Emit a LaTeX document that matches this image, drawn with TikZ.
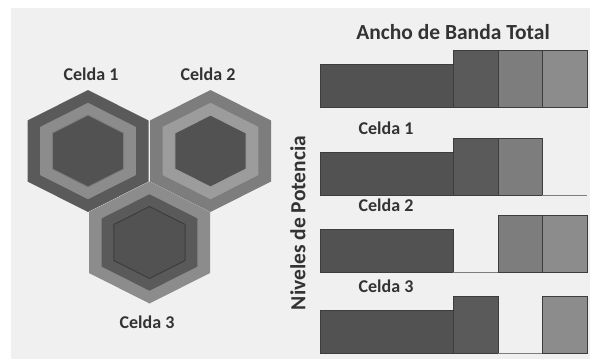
\documentclass[tikz,border=0pt]{standalone}
\usepackage{fontspec}
\setmainfont{Carlito}
\usetikzlibrary{positioning}
\definecolor{fondo}{HTML}{F0F0F0}
\definecolor{texto}{HTML}{333333}
\definecolor{gbase}{HTML}{525252}
\definecolor{goscuro}{HTML}{5A5A5A}
\definecolor{gmedio}{HTML}{7D7D7D}
\definecolor{gclaro}{HTML}{8C8C8C}
\definecolor{gpalido}{HTML}{9C9C9C}
\definecolor{gborde}{HTML}{3D3D3D}
\tikzstyle{titulo}=[font=\bfseries\fontsize{21.5}{24}\selectfont, text=texto, inner sep=0pt]
\tikzstyle{etiqueta}=[font=\bfseries\fontsize{18}{20}\selectfont, text=texto, inner sep=0pt]
\tikzstyle{barra}=[draw=gborde, line width=0.6]
\tikzstyle{base}=[draw=gmedio, line width=1]

\begin{document}
\begin{tikzpicture}[x=1pt,y=-1pt]
    \useasboundingbox (0,0) rectangle (590,362);
    \fill[fondo] (11,8) rectangle (590,359);

    % celdas
    \foreach \cx/\cy/\cout/\cring/\cin/\borde in {149.5/242.5/gclaro/goscuro/gbase/gborde, 88/151/goscuro/gclaro/gbase/gmedio, 210.5/151/gmedio/gpalido/gbase/gpalido}
    {
        \foreach \s/\c in {1/\cout, 0.79/\cring}
            \fill[fill=\c, shift={(\cx,\cy)}, scale=\s] (0,-61) -- (60.5,-30.5) -- (60.5,30.5) -- (0,61) -- (-60.5,30.5) -- (-60.5,-30.5) -- cycle;
        \filldraw[fill=\cin, draw=\borde, line width=1, shift={(\cx,\cy)}, scale=0.59] (0,-61) -- (60.5,-30.5) -- (60.5,30.5) -- (0,61) -- (-60.5,30.5) -- (-60.5,-30.5) -- cycle;
    }

    \node[etiqueta] (hc1) at (91,74) {Celda 1};
    \node[etiqueta] (hc2) at (208,74) {Celda 2};
    \node[etiqueta] (hc3) at (147,322) {Celda 3};

    % niveles de potencia
    \node[titulo] (total) at (453,32) {Ancho de Banda Total};
    \node[titulo, rotate=90] (niveles) at (298,223) {Niveles de Potencia};

    \foreach \yb/\name/\txt in {195/b1/{Celda 1}, 272/b2/{Celda 2}, 353/b3/{Celda 3}}
        \node[etiqueta] (\name) at (386,\yb-67) {\txt};

    \foreach \yb in {107,195,272,353}
        \filldraw[barra, fill=gbase] (320,\yb-43) rectangle (453,\yb);

    \foreach \xa/\xb/\yb/\col in {453/498/107/goscuro, 498/542/107/gmedio, 542/587/107/gclaro,
                                  453/498/195/goscuro, 498/542/195/gmedio,
                                  498/542/272/gmedio, 542/587/272/gclaro,
                                  453/498/353/goscuro, 542/587/353/gclaro}
        \filldraw[barra, fill=\col] (\xa,\yb-57) rectangle (\xb,\yb);

    \foreach \xa/\xb/\yb in {542/587/195, 453/498/272, 498/542/353}
        \draw[base] (\xa,\yb) -- (\xb,\yb);

\end{tikzpicture}
\end{document}
